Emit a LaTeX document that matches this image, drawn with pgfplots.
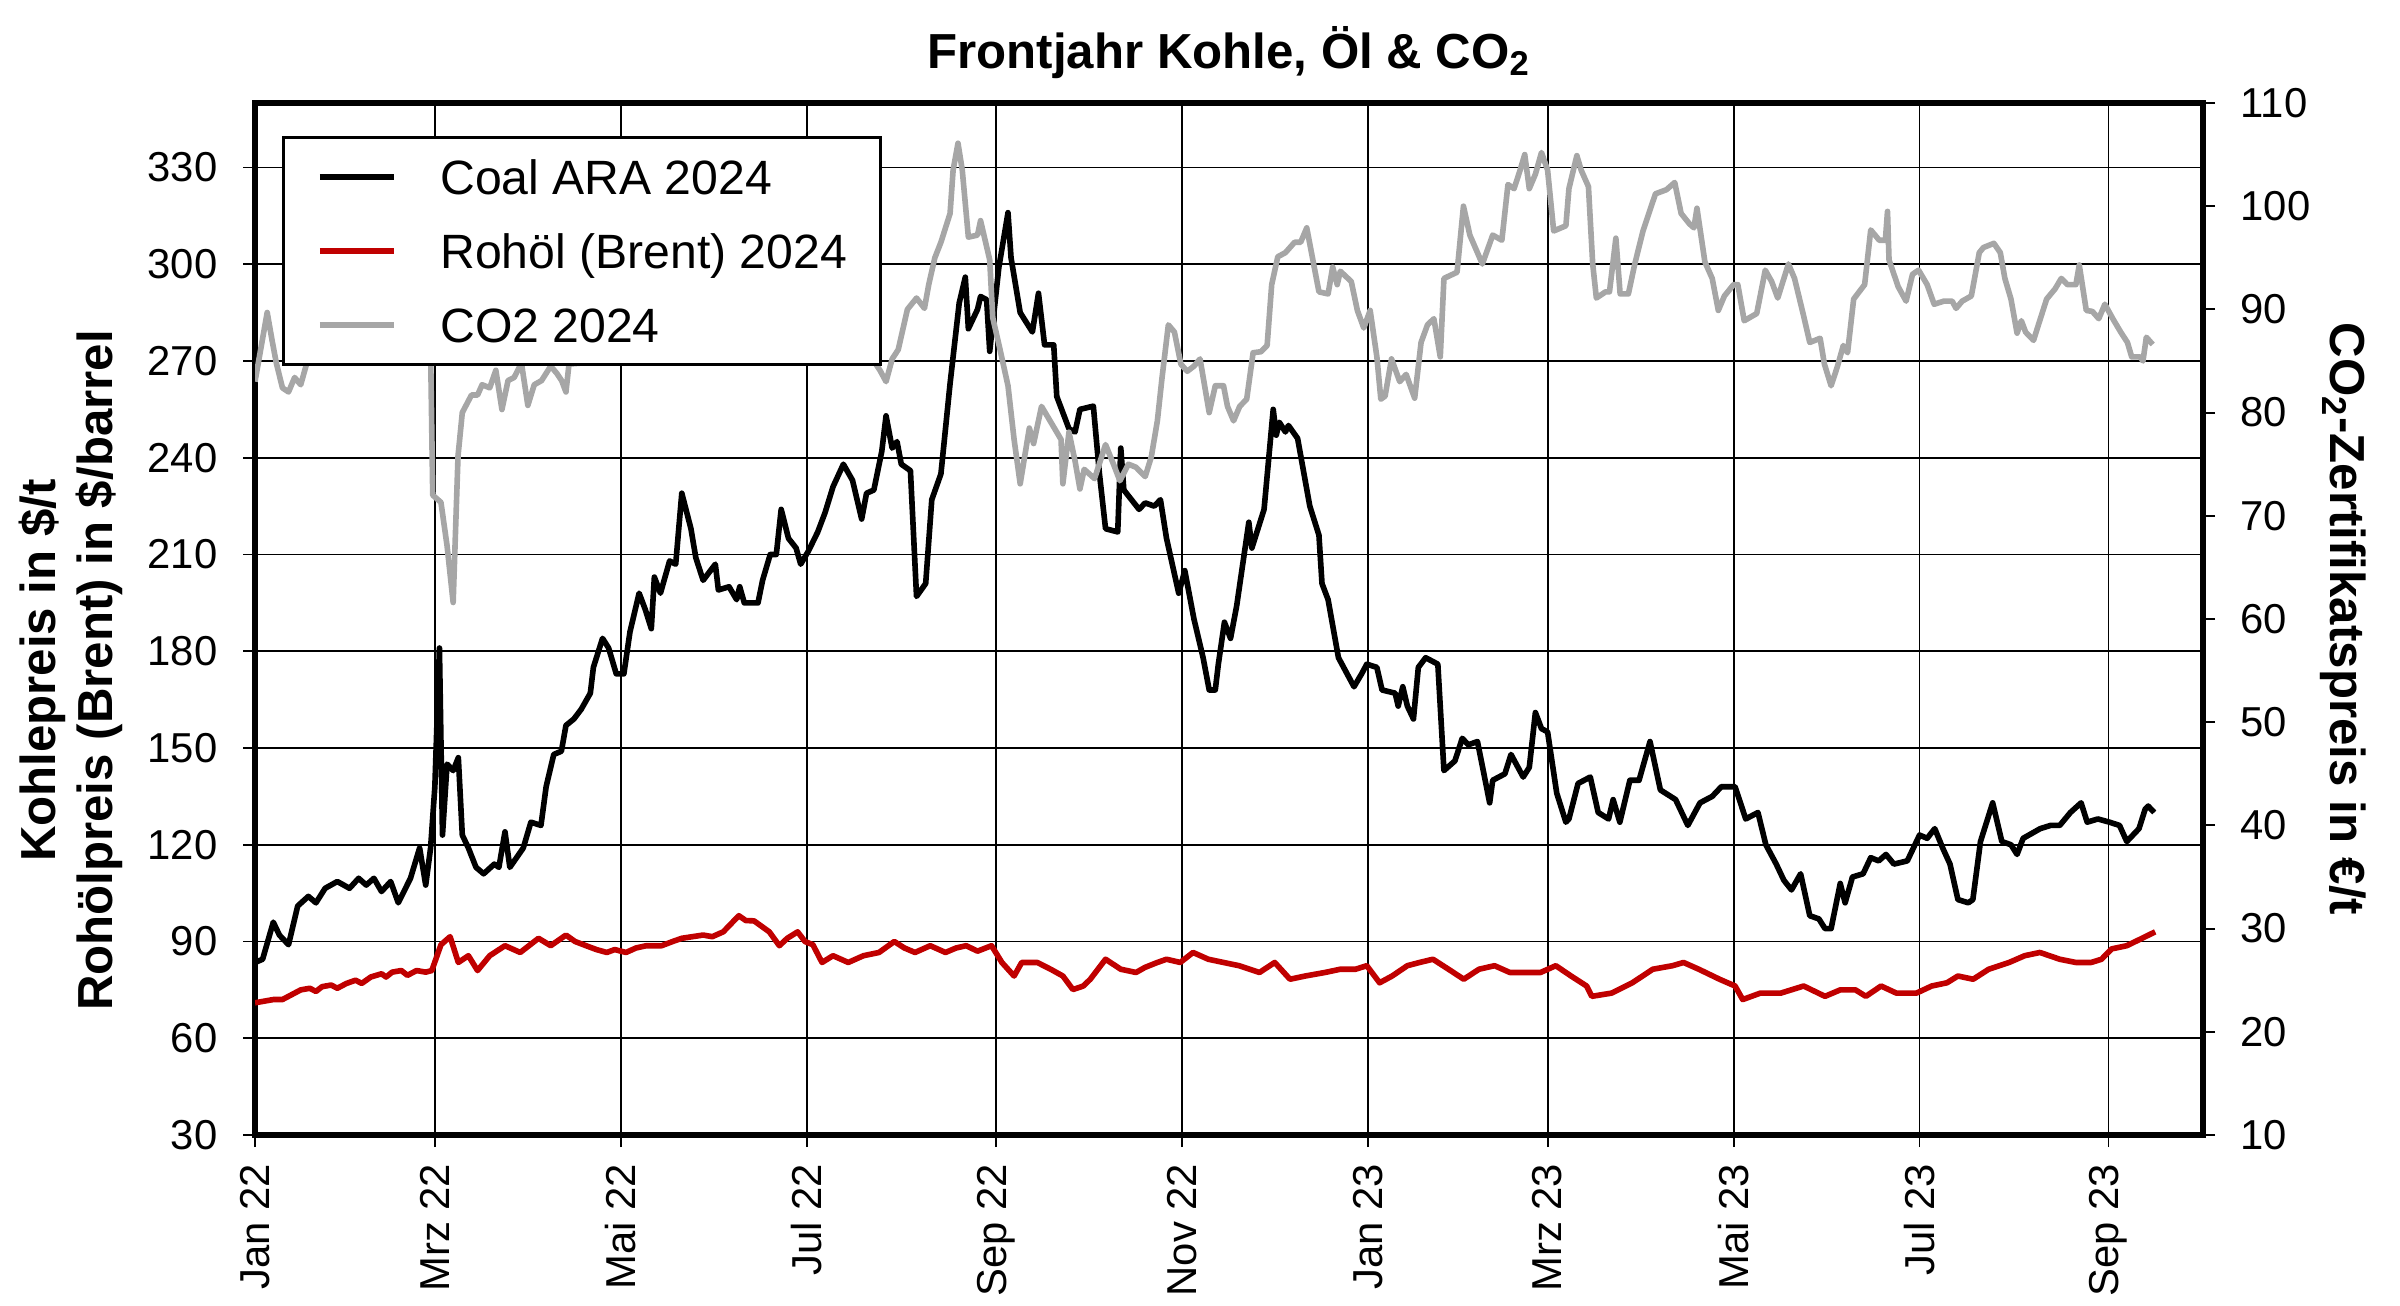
\documentclass[border=0pt]{standalone}
\usepackage{fontspec}
\setmainfont{Liberation Sans}
\usepackage{pgfplots}
\pgfplotsset{compat=1.18}
\definecolor{oilc}{RGB}{192,0,0}
\definecolor{co2c}{RGB}{166,166,166}
\begin{document}
\begin{tikzpicture}
\path[use as bounding box] (-25.5mm,-17mm) rectangle (214.5mm,113.5mm);
\begin{axis}[
  at={(0,0)}, anchor=south west,
  scale only axis, width=194.8mm, height=103.2mm,
  xmin=0, xmax=639, ymin=30, ymax=350,
  xtick={0,59,120,181,243,304,365,424,485,546,608},
  xticklabels={Jan 22,Mrz 22,Mai 22,Jul 22,Sep 22,Nov 22,Jan 23,Mrz 23,Mai 23,Jul 23,Sep 23},
  ytick={30,60,...,330},
  grid=major, grid style={black, line width=0.55pt},
  axis line style={line width=1.5pt},
  tick align=outside, major tick length=1.2mm,
  tick style={black, line width=0.55pt},
  xtick pos=left, ytick pos=left,
  /pgf/number format/assume math mode=true,
  ticklabel style={font=\fontsize{11.9}{14}\selectfont, inner sep=0pt},
  yticklabel style={anchor=east},
  xticklabel style={rotate=90, anchor=east},
  yticklabel shift=2.5mm,
  xticklabel shift=1.6mm,
  every axis title/.style={at={(0.5,1)}, anchor=base, yshift=3.5mm, font=\bfseries\fontsize{14}{16}\selectfont},
  title={Frontjahr Kohle, Öl \& CO\textsubscript{2}},
  every axis y label/.style={at={(axis description cs:-0.0947,0.45)}, rotate=90, anchor=center, align=center, font=\bfseries\fontsize{14}{16.2}\selectfont},
  ylabel={Kohlepreis in \$/t\\Rohölpreis (Brent) in \$/barrel},
]
\addplot[black, line width=1.6pt, line join=round] coordinates {
(0,83.5) (2.5,84.5) (6,96) (8,92) (11,89) (14,101) (17.5,104) (20,102) (23,106.5) (27,108.6)
(31,106.5) (34,109.6) (36.5,107.5) (39,109.6) (41.5,105.5) (44.5,108.6) (47,102) (51,109.6) (54,119) (56,107.5)
(57.6,119) (59,138) (60.5,181) (61.5,123) (63,145) (65,143) (66.7,147) (68,123) (70,119) (72.5,113)
(75,111) (78.5,114) (80,113) (82,124) (83.6,113) (88,119) (90.5,127) (93.8,126) (95.5,138) (98,148)
(100.5,149) (102,157) (104.6,159) (107,162) (110,167) (111,175) (114,184) (116,181) (118.5,173) (121,173)
(123,186) (126,198) (128,193) (130,187) (131,203) (133,198) (136,208) (138,207) (140,229) (143,218)
(144.6,209) (147,202) (151,207) (152,199) (155.5,200) (158,196) (159,200) (160.5,195) (165,195) (166.5,202)
(169,210) (171,210) (172.6,224) (175,215) (177.5,212) (179,207) (181.5,211) (184.6,217) (187,223) (189.6,231)
(193,238) (196,233) (199,221) (200.6,229) (203,230) (205.6,242) (207,253) (209,243) (210.6,245) (212,238)
(215,236) (217,197) (220,201) (222,227) (225,235) (228,263) (231,288) (233,296) (234,280) (237,286)
(238,290) (240,289) (241,273) (244,299) (247,316) (248,302) (251,285) (255,279) (257,291) (259,275)
(262,275) (263,259) (267,249) (269,248) (270.6,255) (275,256) (277,235) (279,218) (283,217) (284,243)
(285,230) (290,224) (292,226) (295,225) (297,227) (299,215) (303,198) (305,205) (308,190) (311,178)
(313,168) (315,168) (316,176) (318,189) (320,184) (322,194) (326,220) (327,212) (331,224) (334,255)
(335,247) (336,251) (338,248) (339,250) (342,246) (346,225) (349,216) (350,201) (352,196) (355.4,178)
(360.5,169) (363,173) (364.7,176) (368,175) (369.7,168) (374,167) (375,163) (376.5,169) (378,163) (380,159)
(381.6,175) (384,178) (388,176) (390,143) (393.6,146) (396,153) (398,151) (401,152) (405,133) (406,140)
(410,142) (412,148) (416,141) (418,144) (420,161) (422,156) (424,155) (427,136) (430,127) (431,128)
(434,139) (438,141) (440.6,130) (444,128) (445.5,134) (447.7,127) (451,140) (454,140) (457.6,152) (461,137)
(466,134) (470,126) (474,133) (478,135) (481,138) (485.5,138) (489,128) (493,130) (495.6,120) (499,114)
(501.5,109) (504,106) (507,111) (510,98) (513,97) (515,94) (517,94) (520,108) (521.6,102) (524,110)
(527.5,111) (530,116) (532.6,115) (535,117) (537.6,114) (542,115) (546,123) (548.5,122) (551,125) (553.6,119)
(556,114) (558.6,103) (562,102) (563.5,103) (566,121) (570,133) (573,121) (576,120) (578,117) (580,122)
(585.6,125) (589,126) (592,126) (595.5,130) (599,133) (601,127) (604.5,128) (608.3,127) (611.6,126) (614,121)
(618,125) (620,131) (621,132) (623,130)
};
\addplot[oilc, line width=1.6pt, line join=round] coordinates {
(0,71) (3,71.5) (6,72) (9,72) (12,73.5) (15,75) (18,75.5) (20,74.5) (22,76) (25,76.5) (27,75.5) (30,77)
(33,78) (35,77) (38,79) (41.5,80) (43,79) (45,80.5) (48,81) (50,79.5) (53,81) (56,80.5) (58,81)
(61,89) (64,91.5) (66.7,83.5) (70,85.6)
(73,81) (77,85.6) (82,88.7) (87,86.6) (93,91) (97,88.7) (102,92) (105,90) (108.6,88.7) (112,87.5) (115.4,86.6)
(118,87.5) (121.7,86.6) (125,88) (128.4,88.7) (133.4,88.7) (137,90) (140,91) (147,92) (150,91.5) (153.6,93)
(158.7,98) (161,96.5) (163.7,96.4) (168.7,93) (172,88.7) (174.6,91) (178,93) (180.4,90) (183,89) (186,83.5)
(189.6,85.6) (194.6,83.5) (199.6,85.6) (204.7,86.6) (209.7,90) (213,88) (216.5,86.6) (221.5,88.7) (226.5,86.6)
(230,88) (233.3,88.7) (237,87) (241.6,88.7) (245,83.5) (249,79.3) (251.5,83.5) (256.6,83.5) (261,81.4)
(265,79.3) (268.3,75.1) (271.7,76.2) (274,78.3) (279,84.5) (284,81.4) (289,80.4) (292,82) (296,83.5)
(299,84.5) (303.5,83.5) (307.7,86.6) (312.7,84.5) (317.7,83.5) (322.8,82.5) (326,81.5) (329.5,80.4)
(334.5,83.5) (339.5,78.3) (344.5,79.3) (351,80.4) (356,81.4) (361,81.4) (364.7,82.5) (368.9,77.2)
(373,79.3) (378,82.5) (382,83.5) (386.4,84.5) (391.5,81.4) (396.5,78.3) (401.5,81.4) (406.6,82.5)
(411.6,80.4) (416.7,80.4) (421.7,80.4) (426.7,82.5) (431.7,79.3) (436.8,76.2) (438.5,73) (445,74)
(451.8,77.2) (458.5,81.4) (465,82.5) (468.6,83.5) (473.6,81.4) (480.4,78.3) (485.5,76.2) (488,72)
(493.8,74) (500.5,74) (508,76.2) (515,73) (520,75) (525,75) (528.4,73) (533.4,76.2) (538.4,74) (545,74)
(550,76.2) (555,77.2) (558.6,79.3) (563.6,78.3) (568.7,81.4) (575.4,83.5) (580.5,85.6) (585.5,86.6)
(592,84.5) (597.3,83.5) (602.3,83.5) (605.7,84.5) (609,87.7) (614,88.7) (619,91) (623.3,93)
};
\end{axis}
\begin{axis}[
  at={(0,0)}, anchor=south west,
  scale only axis, width=194.8mm, height=103.2mm,
  xmin=0, xmax=639, ymin=10, ymax=110,
  ytick={10,20,...,110},
  axis x line=none, axis y line*=right,
  axis line style={line width=1.5pt},
  tick align=outside, major tick length=1.2mm,
  tick style={black, line width=0.55pt},
  /pgf/number format/assume math mode=true,
  ticklabel style={font=\fontsize{11.9}{14}\selectfont, inner sep=0pt},
  yticklabel style={anchor=west},
  yticklabel shift=2.5mm,
  every axis y label/.style={at={(axis description cs:1.0719,0.5)}, rotate=-90, anchor=center, font=\bfseries\fontsize{14}{16}\selectfont},
  ylabel={CO\textsubscript{2}-Zertifikatspreis in €/t},
  legend style={at={(axis description cs:0.01386,0.968)}, anchor=north west, draw=black, line width=0.9pt, fill=white,
    font=\fontsize{13.7}{16}\selectfont, inner xsep=3.3mm, inner ysep=2.2mm, row sep=3.95mm, column sep=4.3mm,
    nodes={inner sep=0pt, text height=3.45mm, text depth=0pt}, cells={anchor=west}},
  legend image code/.code={\draw[#1, line width=1.9pt] (0mm,0mm) -- (7.4mm,0mm);},
]
\addlegendimage{black}
\addlegendentry{Coal ARA 2024}
\addlegendimage{oilc}
\addlegendentry{Rohöl (Brent) 2024}
\addplot[co2c, line width=1.6pt, line join=round] coordinates {
(0,83) (1.5,85.5) (4,89.7) (5.6,87) (7,84.8) (9,82.4) (11,82) (13,83.4) (15,82.7) (17,84.8) (19,85)
(25,88) (32,90) (40,93) (48,95) (54,93) (57.5,88)
(58.3,72) (61,71.3) (63,67.1) (65,61.6) (66.6,75.8) (68,80) (71,81.7) (73,81.7) (74.5,82.7) (77,82.4)
(79,84.1) (81,80.3) (83,83.1) (85,83.4) (87.4,84.8) (89.5,80.7) (91.6,82.7) (94,83.1) (97,84.5) (99,83.8)
(100.6,83.1) (102,82) (103,84.7) (107,84.8)
(110,87) (118,89) (128,88) (138,90) (150,91) (160,89) (170,88) (180,88) (190,87) (198,86.5)
(202.5,85.2) (205,84.1) (207,83) (209,85.2) (211,86.1) (214,90) (217,91.1) (219.6,90.1) (221,92.4) (223,95)
(225,96.5) (228,99.3) (229,103.5) (230.6,106.1) (232,103.5) (234,97) (237,97.2) (238,98.6) (241,94.8) (242,89.2)
(244.4,86.1) (247,82.6) (249,77.4) (251,73.1) (254,78.5) (255.4,77) (258,80.6) (261.6,78.8) (264.4,77.4) (265,73.1)
(267,78.1) (269,75.3) (270.6,72.6) (272,74.5) (275.4,73.6) (279,76.9) (281.6,75) (283.7,73.4) (286.5,75) (289,74.7)
(292,73.8) (294,75.7) (296,79.2) (297.5,83.3) (299.6,88.5) (301.6,87.8) (303.7,84.7) (305.8,84) (308,84.5) (310,85.2)
(313,80) (315,82.6) (317.7,82.6) (319,80.6) (321,79.2) (323,80.6) (325.3,81.3) (327.4,85.8) (330,85.9) (332,86.5)
(333.5,92.4) (335.5,95.1) (338,95.5) (341,96.5) (343,96.5) (345,97.9) (347,94.8) (349,91.7) (352,91.5) (353.5,94.1)
(355,92.4) (356,93.7) (359.6,92.7) (361.6,89.9) (363.7,88.2) (365.8,89.9) (368,85.4) (369.3,81.3) (370.7,81.6) (372.8,85.2)
(375.5,83) (377.6,83.7) (380.4,81.4) (382.5,86.8) (384.6,88.5) (386.7,89.1) (388.8,85.4) (390,93) (394.3,93.6) (396.4,100)
(398.5,97.2) (402.6,94.4) (406,97.2) (409,96.7) (411,102.1) (413,101.7) (415,103.5) (416.5,105) (418,101.7) (420,103.1)
(422,105.2) (424,103.5) (426,97.6) (430,98.1) (431,101.7) (433.6,104.9) (435,103.5) (437.4,101.9) (438.8,94.4) (440,91.1)
(443,91.7) (444.3,91.7) (446.4,96.9) (447.8,91.5) (450.5,91.5) (452.6,94.4) (455.3,97.6) (458,100) (459.4,101.2) (463,101.6)
(465.7,102.3) (467.8,99.3) (470.5,98.3) (472,97.9) (473,99.8) (475.6,94.6) (478,93) (480,89.9) (482,91.3) (485,92.4)
(486.4,92.4) (488.5,88.9) (492.6,89.6) (495.4,93.8) (497.5,92.7) (499.5,91.1) (503,94.4) (505,93) (507.8,89.6) (510,86.8)
(513.4,87.2) (514.8,84.7) (517,82.6) (519,84.4) (521,86.5) (522.4,85.8) (524.4,91) (528,92.4) (530,97.7) (532.8,96.7)
(534.8,96.7) (535.5,99.5) (536,94.8) (539,92.2) (541.6,90.8) (543.7,93.4) (545.7,93.8) (548.5,92.4) (550.8,90.5) (554,90.8)
(556.7,90.8) (558,90.1) (560,90.8) (563,91.3) (565.6,95.5) (567,96) (570.4,96.4) (572.5,95.5) (574,93) (576,91)
(578,87.7) (579.4,88.9) (580.8,87.8) (583.4,87) (585,88.5) (587.7,91) (590.5,92) (592.5,93) (594.5,92.4) (597.3,92.4)
(598.4,94.3) (600.7,89.9) (602.7,89.8) (604.8,89.1) (606.8,90.5) (609.4,89.1) (612,87.8) (614.2,86.8) (615.6,85.4) (618.3,85.4)
(619.3,85) (620.4,87.3) (622.5,86.6)
};
\addlegendentry{CO2 2024}
\end{axis}
\end{tikzpicture}
\end{document}
